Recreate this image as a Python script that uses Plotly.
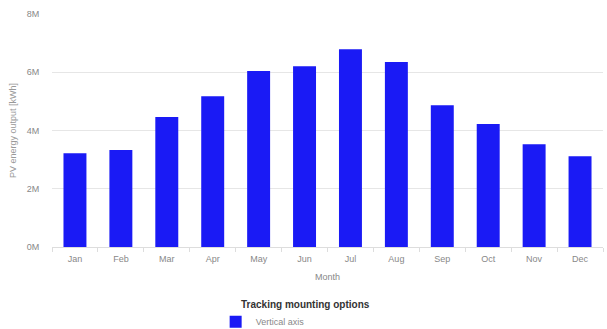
import plotly.graph_objects as go

meses = ["Jan", "Feb", "Mar", "Apr", "May", "Jun", "Jul", "Aug", "Sep", "Oct", "Nov", "Dec"]
produccion = [3.22e6, 3.33e6, 4.46e6, 5.18e6, 6.04e6, 6.21e6, 6.79e6, 6.35e6, 4.87e6, 4.22e6, 3.53e6, 3.12e6]
ticks_y = [0, 2e6, 4e6, 6e6, 8e6]
ticks_y_texto = ["0M", "2M", "4M", "6M", "8M"]

fig = go.Figure()

fig.add_trace(go.Bar(
    name="Vertical axis",
    x=meses,
    y=produccion,
    marker=dict(color="#1a1af5", line=dict(width=0)),
    hovertemplate="<b>%{x}</b><br>%{y:,.0f} kWh<extra></extra>"
))

# Título de la leyenda como anotación para controlar su posición
fig.add_annotation(
    text="<b>Tracking mounting options</b>",
    xref="paper", yref="paper",
    x=0.34, y=-0.245,
    xanchor="left", yanchor="middle",
    showarrow=False,
    font=dict(size=10, color="#333333"),
)

fig.update_layout(
    width=607, height=329,
    font=dict(family="Liberation Sans, Arial, sans-serif", size=9, color="#888888"),
    paper_bgcolor="white",
    plot_bgcolor="white",
    margin=dict(l=52, r=4, t=14, b=82, autoexpand=False),
    bargap=0.5,
    showlegend=True,
    legend=dict(
        font=dict(size=9, color="#888888"),
        x=0.297, xanchor="left",
        yref="container",
        y=0.066, yanchor="top",
        itemwidth=30,
        tracegroupgap=0,
    ),
    xaxis=dict(
        title=dict(text="Month", font=dict(size=9, color="#888888"), standoff=10),
        showline=True, linecolor="#dddddd",
        ticks="outside", ticklen=4, tickcolor="#dddddd",
        ticklabelstandoff=3,
        tickson="boundaries",
        showgrid=False,
    ),
    yaxis=dict(
        title=dict(text="PV energy output [kWh]", font=dict(size=9, color="#999999"), standoff=8),
        range=[0, 8e6],
        tickvals=ticks_y,
        ticktext=ticks_y_texto,
        showgrid=True, gridcolor="#e6e6e6",
        zeroline=False,
        ticks="outside", ticklen=10, tickcolor="rgba(0,0,0,0)",
    ),
)

# Quitar el margen del body para que la figura ocupe la ventana completa
fig.write_html(
    "out.html",
    config={"displayModeBar": False},
    post_script="document.body.style.margin='0';",
)
